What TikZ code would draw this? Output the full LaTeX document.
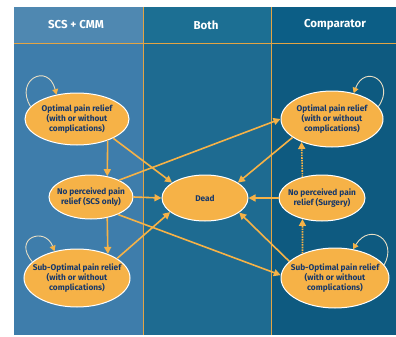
\documentclass[tikz,border=0pt]{standalone}
\usepackage{fontspec}
\setmainfont{Fira Sans}
\usepackage{tikz}
\usetikzlibrary{shapes.geometric,arrows.meta}
\definecolor{relorange}{HTML}{F6B247}
\definecolor{textnavy}{HTML}{17386A}
\definecolor{loopcol}{HTML}{E8DEC4}
\definecolor{colA}{HTML}{3E7DAB}
\definecolor{colB}{HTML}{1E6B91}
\definecolor{colC}{HTML}{0E5A80}
\definecolor{colAhead}{HTML}{4F88B1}
\definecolor{colBhead}{HTML}{1C6F93}
\definecolor{colChead}{HTML}{0C5E86}
\definecolor{rule}{HTML}{E3A444}

\begin{document}
\begin{tikzpicture}[x=1pt,y=-1pt, >={Triangle[length=7pt,width=7pt]}]
\tikzset{hstate/.style={ellipse,fill=relorange,draw=white,line width=1pt,inner xsep=-16pt,inner ysep=-8pt,align=center,text=textnavy,font=\fontsize{8.3}{10}\selectfont\bfseries}}
\tikzset{colhead/.style={text=white,font=\fontsize{11.5}{13}\selectfont\bfseries}}
\tikzset{flow/.style={draw=relorange,line width=1.6pt,->}}
\tikzset{selfloop/.style={draw=loopcol,line width=0.9pt,-{Triangle[length=5.5pt,width=6pt,color=relorange]}}}

\useasboundingbox (0,0) rectangle (396,337);
\fill[white] (0,0) rectangle (396,337);
% the three columns
\fill[colA] (14,7) rectangle (143,335);
\fill[colB] (143,7) rectangle (271,335);
\fill[colC] (271,7) rectangle (396,335);
\fill[colAhead] (14,7) rectangle (143,43);
\fill[colBhead] (143,7) rectangle (271,43);
\fill[colChead] (271,7) rectangle (396,43);
\draw[rule,line width=0.8pt] (14,43) -- (396,43);
\draw[rule,line width=0.8pt] (143,7) -- (143,335);
\draw[rule,line width=0.8pt] (271,7) -- (271,335);

\node[colhead] (hscs) at (76,25) {SCS + CMM};
\node[colhead] (hboth) at (206,25) {Both};
\node[colhead] (hcomp) at (335,25) {Comparator};

% states
\node[hstate,minimum width=104pt,minimum height=52pt] (lopt) at (77,119) {Optimal pain relief\\(with or without\\complications)};
\node[hstate,minimum width=84pt,minimum height=44pt] (lno) at (91,197) {No perceived pain\\relief (SCS only)};
\node[hstate,minimum width=106pt,minimum height=58pt] (lsub) at (77,278) {Sub-Optimal pain relief\\(with or without\\complications)};
\node[hstate,minimum width=86pt,minimum height=46pt] (dead) at (205,198) {Dead};
\node[hstate,minimum width=102pt,minimum height=56pt] (ropt) at (332,119) {Optimal pain relief\\(with or without\\complications)};
\node[hstate,minimum width=86pt,minimum height=46pt] (rno) at (322,198) {No perceived pain\\relief (Surgery)};
\node[hstate,minimum width=108pt,minimum height=60pt] (rsub) at (335,278) {Sub-Optimal pain relief\\(with or without\\complications)};

% transitions
\draw[flow] (lopt.-35) -- (lno.52);
\draw[flow] (lno.-52) -- (lsub.38);
\draw[flow] (lopt.-28) -- (dead.155);
\draw[flow] (lno.east) -- (dead.west);
\draw[flow] (lsub.26) -- (dead.-158);
\draw[flow] (lno.31) -- (ropt.west);
\draw[flow] (lno.-33) -- (rsub.177);
\draw[flow] (ropt.-155) -- (dead.25);
\draw[flow] (rno.west) -- (dead.east);
\draw[flow] (rsub.160) -- (dead.-23);
\draw[flow,densely dotted] (rno.133) -- (ropt.-143);
\draw[flow,densely dotted] (rsub.143) -- (rno.-133);

% staying in the same state
\draw[selfloop] (lopt.165) .. controls (14,80) and (48,62) .. (lopt.130);
\draw[selfloop] (lsub.160) .. controls (12,238) and (45,226) .. (lsub.130);
\draw[selfloop] (ropt.15) .. controls (396,82) and (365,63) .. (ropt.50);
\draw[selfloop] (rsub.15) .. controls (398,240) and (370,222) .. (rsub.58);
\end{tikzpicture}
\end{document}
